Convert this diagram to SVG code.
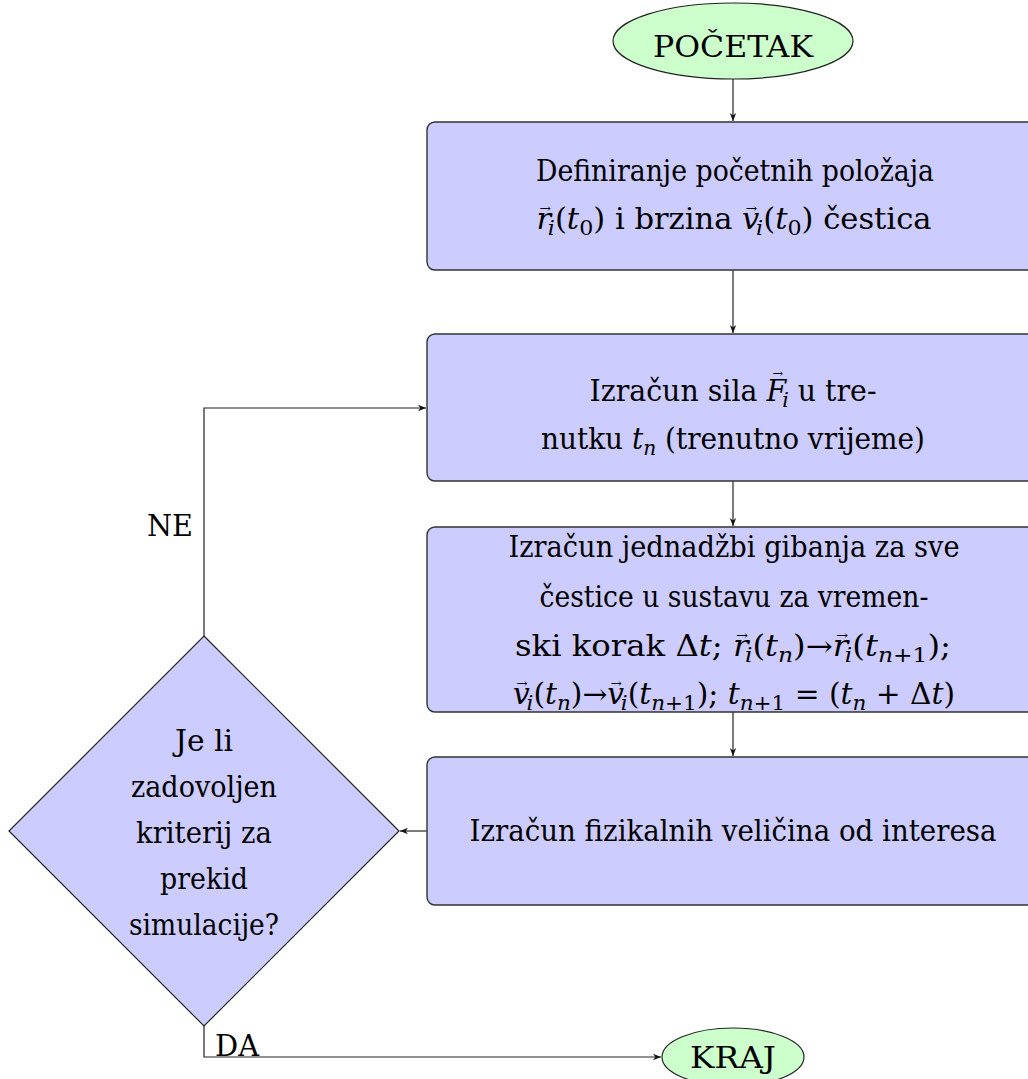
<svg xmlns="http://www.w3.org/2000/svg" width="1028" height="1079" viewBox="0 0 1028 1079" font-family="'DejaVu Serif','Liberation Serif',serif">
<style>
text{font-family:'DejaVu Serif','Liberation Serif',serif;font-size:29px;fill:#000;text-anchor:middle}
.it{font-style:italic}
.sb{font-size:21px}
.vec{font-size:13px;font-style:normal}
.box{fill:#ccccff;stroke:#333;stroke-width:1.4}
.term{fill:#ccffcc;stroke:#222;stroke-width:1.2}
.dia{fill:#ccccff;stroke:#222;stroke-width:1.2}
.con{fill:none;stroke:#222;stroke-width:1.2;marker-end:url(#ah)}
</style>
<defs>
<marker id="ah" viewBox="0 0 10 10" refX="10" refY="5" markerWidth="8" markerHeight="8" markerUnits="userSpaceOnUse" orient="auto">
<path d="M0,1 L10,5 L0,9 L3,5 Z" fill="#111"/>
</marker>
</defs>
<rect width="1028" height="1079" fill="#fff"/>
<g id="connectors">
<path class="con" d="M733,79 L733,121"/>
<path class="con" d="M733,270 L733,333"/>
<path class="con" d="M733,481 L733,526"/>
<path class="con" d="M733,712 L733,756"/>
<path class="con" d="M427,831 L400,831"/>
<path class="con" d="M204,636 L204,408 L426,408"/>
<path class="con" d="M204,1026 L204,1057 L661,1057"/>
<text x="170" y="536" textLength="46" lengthAdjust="spacingAndGlyphs">NE</text>
<text x="237" y="1056" textLength="44" lengthAdjust="spacingAndGlyphs">DA</text>
</g>
<g id="start">
<ellipse class="term" cx="733" cy="41" rx="120" ry="38"/>
<text x="733" y="57" textLength="160" lengthAdjust="spacingAndGlyphs">POČETAK</text>
</g>
<g id="init">
<rect class="box" x="427" y="122" width="614" height="148" rx="8"/>
<text x="735" y="181" textLength="398" lengthAdjust="spacingAndGlyphs">Definiranje početnih položaja</text>
<text x="734" y="229" textLength="395" lengthAdjust="spacingAndGlyphs"><tspan class="it">r</tspan><tspan class="vec" dx="-11" dy="-16">→</tspan><tspan class="it sb" dx="-3" dy="16" baseline-shift="-6">i</tspan>(<tspan class="it">t</tspan><tspan class="sb" baseline-shift="-6">0</tspan>) i brzina <tspan class="it">v</tspan><tspan class="vec" dx="-13" dy="-16">→</tspan><tspan class="it sb" dx="-1" dy="16" baseline-shift="-6">i</tspan>(<tspan class="it">t</tspan><tspan class="sb" baseline-shift="-6">0</tspan>) čestica</text>
</g>
<g id="forces">
<rect class="box" x="427" y="334" width="614" height="147" rx="8"/>
<text x="733" y="401" textLength="287" lengthAdjust="spacingAndGlyphs">Izračun sila <tspan class="it">F</tspan><tspan class="vec" dx="-14" dy="-23">→</tspan><tspan class="it sb" dx="-1" dy="23" baseline-shift="-6">i</tspan> u tre-</text>
<text x="733" y="449" textLength="384" lengthAdjust="spacingAndGlyphs">nutku <tspan class="it">t</tspan><tspan class="it sb" baseline-shift="-6">n</tspan> (trenutno vrijeme)</text>
</g>
<g id="integrate">
<rect class="box" x="427" y="527" width="614" height="185" rx="8"/>
<text x="734" y="557" textLength="451" lengthAdjust="spacingAndGlyphs">Izračun jednadžbi gibanja za sve</text>
<text x="734" y="607" textLength="389" lengthAdjust="spacingAndGlyphs">čestice u sustavu za vremen-</text>
<text x="733" y="656" textLength="436" lengthAdjust="spacingAndGlyphs">ski korak Δ<tspan class="it">t</tspan>; <tspan class="it">r</tspan><tspan class="vec" dx="-11" dy="-16">→</tspan><tspan class="it sb" dx="-3" dy="16" baseline-shift="-6">i</tspan>(<tspan class="it">t</tspan><tspan class="it sb" baseline-shift="-6">n</tspan>)→<tspan class="it">r</tspan><tspan class="vec" dx="-11" dy="-16">→</tspan><tspan class="it sb" dx="-3" dy="16" baseline-shift="-6">i</tspan>(<tspan class="it">t</tspan><tspan class="sb" baseline-shift="-6"><tspan class="it">n</tspan>+1</tspan>);</text>
<text x="734" y="704" textLength="442" lengthAdjust="spacingAndGlyphs"><tspan class="it">v</tspan><tspan class="vec" dx="-13" dy="-16">→</tspan><tspan class="it sb" dx="-1" dy="16" baseline-shift="-6">i</tspan>(<tspan class="it">t</tspan><tspan class="it sb" baseline-shift="-6">n</tspan>)→<tspan class="it">v</tspan><tspan class="vec" dx="-13" dy="-16">→</tspan><tspan class="it sb" dx="-1" dy="16" baseline-shift="-6">i</tspan>(<tspan class="it">t</tspan><tspan class="sb" baseline-shift="-6"><tspan class="it">n</tspan>+1</tspan>); <tspan class="it">t</tspan><tspan class="sb" baseline-shift="-6"><tspan class="it">n</tspan>+1</tspan> = (<tspan class="it">t</tspan><tspan class="it sb" baseline-shift="-6">n</tspan> + Δ<tspan class="it">t</tspan>)</text>
</g>
<g id="measure">
<rect class="box" x="427" y="757" width="614" height="148" rx="8"/>
<text x="733" y="841" textLength="527" lengthAdjust="spacingAndGlyphs">Izračun fizikalnih veličina od interesa</text>
</g>
<g id="decision">
<polygon class="dia" points="204,636 399,831 204,1026 9,831"/>
<text x="204" y="751" textLength="58" lengthAdjust="spacingAndGlyphs">Je li</text>
<text x="204" y="797" textLength="146" lengthAdjust="spacingAndGlyphs">zadovoljen</text>
<text x="204" y="843" textLength="136" lengthAdjust="spacingAndGlyphs">kriterij za</text>
<text x="204" y="889" textLength="88" lengthAdjust="spacingAndGlyphs">prekid</text>
<text x="204" y="935" textLength="150" lengthAdjust="spacingAndGlyphs">simulacije?</text>
</g>
<g id="end">
<ellipse class="term" cx="733" cy="1057" rx="71" ry="29"/>
<text x="733" y="1068" textLength="86" lengthAdjust="spacingAndGlyphs">KRAJ</text>
</g>
</svg>
